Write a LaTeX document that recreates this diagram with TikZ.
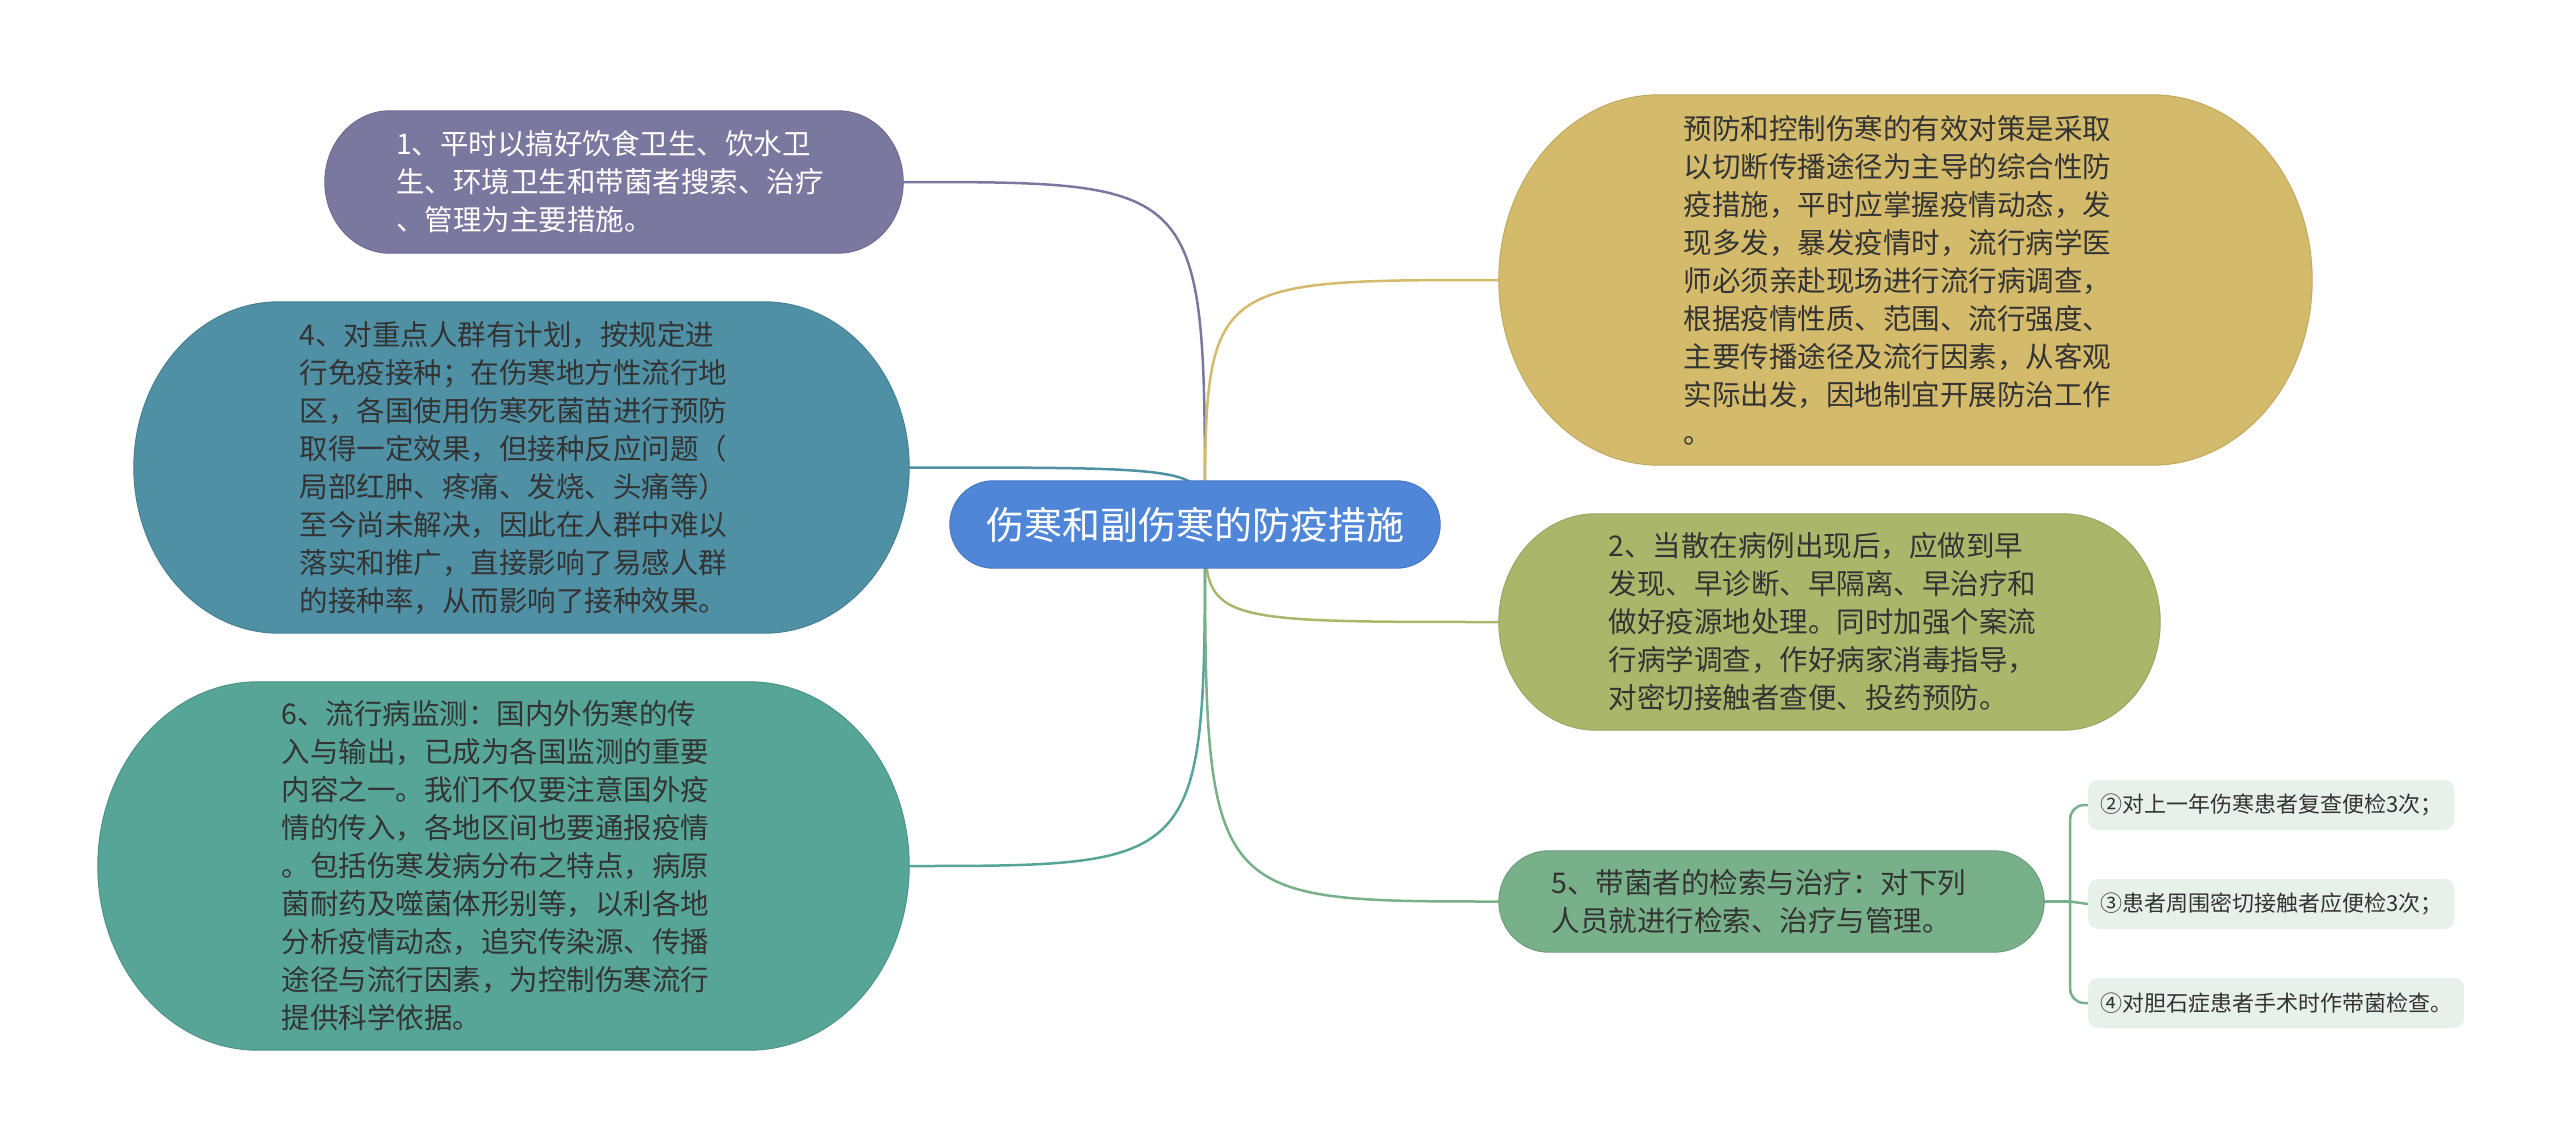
\documentclass[tikz,border=0pt]{standalone}
\usepackage{fontspec}
\setmainfont{Noto Sans CJK SC}
\usetikzlibrary{calc}
\pgfdeclarelayer{bg}
\pgfsetlayers{bg,main}

\definecolor{cPurple}{HTML}{7B78A0}
\definecolor{cTeal}{HTML}{4F90A4}
\definecolor{cSea}{HTML}{56A597}
\definecolor{cGold}{HTML}{D4BB6B}
\definecolor{cOlive}{HTML}{AAB76B}
\definecolor{cGreen}{HTML}{78B089}
\definecolor{cCenter}{HTML}{4F86D7}
\definecolor{cSub}{HTML}{E7F1EA}
\definecolor{cText}{HTML}{333333}

\newcommand\capsule[3]{%
  \path[fill=#3, draw=#3!90!black, line width=1pt]
    let \p1=(#1.north west), \p2=(#1.south east), \n1={(\y1-\y2)/2} in
    (\x1+#2pt,\y1) -- (\x2-#2pt,\y1)
    arc[start angle=90, end angle=-90, x radius=#2pt, y radius={\n1*1pt}]
    -- (\x1+#2pt,\y2)
    arc[start angle=270, end angle=90, x radius=#2pt, y radius={\n1*1pt}]
    -- cycle;}

\tikzset{
  mainbox/.style={inner sep=0pt, align=left, text=cText,
    font=\fontsize{28.5}{38}\selectfont},
  subbox/.style={anchor=west, inner xsep=12pt, inner ysep=0pt, minimum height=50pt,
    fill=cSub, rounded corners=10pt, text=cText,
    font=\fontsize{22}{26}\selectfont},
  conn/.style={line width=2.5pt},
}

\begin{document}
\begin{tikzpicture}[x=1pt,y=-1pt]
\useasboundingbox (0,0) rectangle (2560,1148);

% central node
\node[inner sep=0pt, minimum width=490pt, minimum height=87pt, text=white,
  font=\fontsize{38}{44}\selectfont] (c) at (1195,524.5) {伤寒和副伤寒的防疫措施};
\coordinate (hub) at ($(c.center)+(10,0)$);

% left nodes
\node[mainbox, text=white, minimum width=578pt, minimum height=142pt, text width=436pt]
  (n1) at (614,182) {1、平时以搞好饮食卫生、饮水卫\\生、环境卫生和带菌者搜索、治疗\\、管理为主要措施。};

\node[mainbox, minimum width=775pt, minimum height=331pt, text width=444pt]
  (n4) at (521.5,467.5) {4、对重点人群有计划，按规定进\\行免疫接种；在伤寒地方性流行地\\区，各国使用伤寒死菌苗进行预防\\取得一定效果，但接种反应问题（\\局部红肿、疼痛、发烧、头痛等）\\至今尚未解决，因此在人群中难以\\落实和推广，直接影响了易感人群\\的接种率，从而影响了接种效果。};

\node[mainbox, minimum width=811pt, minimum height=368pt, text width=444pt]
  (n6) at (503.5,866) {6、流行病监测：国内外伤寒的传\\入与输出，已成为各国监测的重要\\内容之一。我们不仅要注意国外疫\\情的传入，各地区间也要通报疫情\\。包括伤寒发病分布之特点，病原\\菌耐药及噬菌体形别等，以利各地\\分析疫情动态，追究传染源、传播\\途径与流行因素，为控制伤寒流行\\提供科学依据。};

% right nodes
\node[mainbox, minimum width=813pt, minimum height=370pt, text width=444pt]
  (ny) at (1905.5,280) {预防和控制伤寒的有效对策是采取\\以切断传播途径为主导的综合性防\\疫措施，平时应掌握疫情动态，发\\现多发，暴发疫情时，流行病学医\\师必须亲赴现场进行流行病调查，\\根据疫情性质、范围、流行强度、\\主要传播途径及流行因素，从客观\\实际出发，因地制宜开展防治工作\\。};

\node[mainbox, minimum width=661pt, minimum height=216pt, text width=442pt]
  (n2) at (1829.5,622) {2、当散在病例出现后，应做到早\\发现、早诊断、早隔离、早治疗和\\做好疫源地处理。同时加强个案流\\行病学调查，作好病家消毒指导，\\对密切接触者查便、投药预防。};

\node[mainbox, minimum width=545pt, minimum height=101pt, text width=440pt]
  (n5) at (1771.5,901.5) {5、带菌者的检索与治疗：对下列\\人员就进行检索、治疗与管理。};

% sub nodes
\node[subbox] (s2) at (2088,805) {②对上一年伤寒患者复查便检3次；};
\node[subbox] (s3) at (2088,904) {③患者周围密切接触者应便检3次；};
\node[subbox] (s4) at (2088,1003) {④对胆石症患者手术时作带菌检查。};
\coordinate (j) at ($(n5.east)+(26,0)$);

\begin{pgfonlayer}{bg}
  \fill[white] (0,0) rectangle (2560,1148);

  \draw[conn, cPurple] (hub) .. controls (hub |- n1.east) .. (n1.east);
  \draw[conn, cTeal]   (hub) .. controls (hub |- n4.east) .. (n4.east);
  \draw[conn, cSea]    (hub) .. controls (hub |- n6.east) .. (n6.east);
  \draw[conn, cGold]   (hub) .. controls (hub |- ny.west) .. (ny.west);
  \draw[conn, cOlive]  (hub) .. controls (hub |- n2.west) .. (n2.west);
  \draw[conn, cGreen]  (hub) .. controls (hub |- n5.west) .. (n5.west);

  \draw[conn, cGreen] (n5.east) -- (j);
  \draw[conn, cGreen, rounded corners=14pt] (j) |- (s2.west);
  \draw[conn, cGreen] (j) -- (s3.west);
  \draw[conn, cGreen, rounded corners=14pt] (j) |- (s4.west);

  \capsule{n1}{65}{cPurple}
  \capsule{n4}{145}{cTeal}
  \capsule{n6}{160}{cSea}
  \capsule{ny}{160}{cGold}
  \capsule{n2}{97}{cOlive}
  \capsule{n5}{50}{cGreen}
  \capsule{c}{43.5}{cCenter}
\end{pgfonlayer}
\end{tikzpicture}
\end{document}
